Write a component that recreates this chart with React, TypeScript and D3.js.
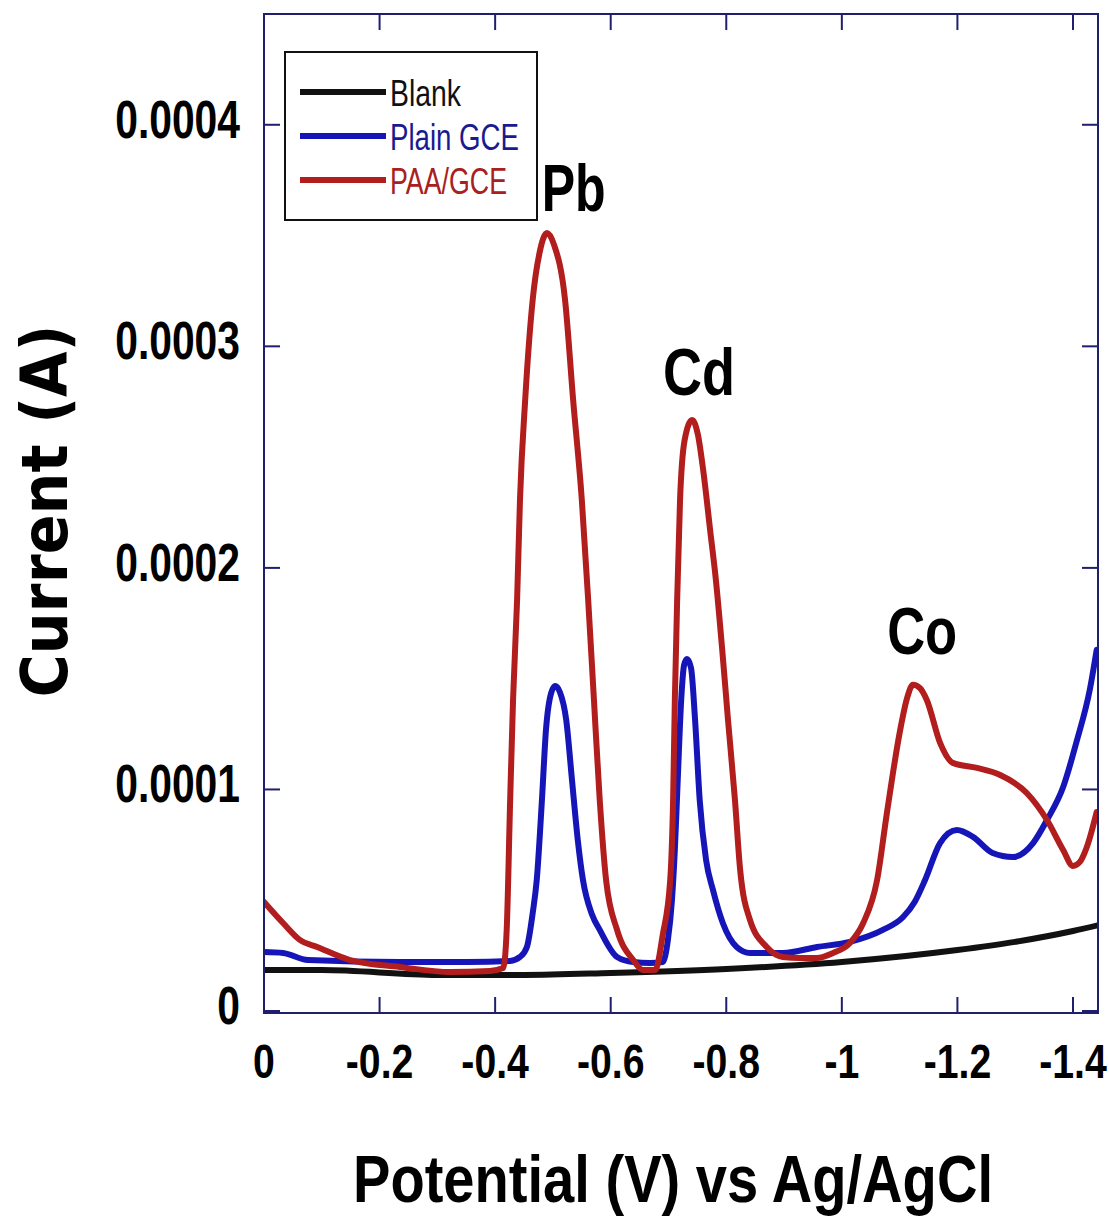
import React from "react";
import * as d3 from "d3";

// Potential (V) and current (A)
const blankV = [0, -0.1, -0.3, -0.45, -0.6, -0.8, -1.0, -1.2, -1.3, -1.4, -1.445];
const blankI = [1.85e-5, 1.85e-5, 1.63e-5, 1.63e-5, 1.72e-5, 1.9e-5, 2.21e-5, 2.75e-5, 3.12e-5, 3.61e-5, 3.88e-5];

const plainV = [0, -0.033, -0.076, -0.235, -0.351, -0.426, -0.443, -0.455, -0.465, -0.472, -0.481, -0.488, -0.497, -0.504, -0.512, -0.523, -0.533, -0.543, -0.552, -0.568, -0.581, -0.611, -0.639, -0.668, -0.69, -0.699, -0.706, -0.711, -0.716, -0.722, -0.727, -0.732, -0.739, -0.746, -0.754, -0.765, -0.777, -0.794, -0.818, -0.841, -0.898, -0.957, -1.014, -1.071, -1.106, -1.126, -1.144, -1.17, -1.199, -1.227, -1.261, -1.296, -1.331, -1.355, -1.383, -1.407, -1.429, -1.441];
const plainI = [2.66e-5, 2.62e-5, 2.3e-5, 2.21e-5, 2.21e-5, 2.26e-5, 2.44e-5, 2.89e-5, 4.42e-5, 5.91e-5, 9.53e-5, 12.69e-5, 14.36e-5, 14.67e-5, 14.4e-5, 13.14e-5, 10.43e-5, 7.72e-5, 5.91e-5, 4.33e-5, 3.66e-5, 2.44e-5, 2.21e-5, 2.17e-5, 2.21e-5, 3.21e-5, 5.01e-5, 7.27e-5, 10.43e-5, 14.04e-5, 15.62e-5, 15.89e-5, 15.49e-5, 13.14e-5, 9.53e-5, 6.82e-5, 5.46e-5, 3.97e-5, 2.89e-5, 2.62e-5, 2.62e-5, 2.89e-5, 3.12e-5, 3.66e-5, 4.24e-5, 4.92e-5, 5.91e-5, 7.58e-5, 8.17e-5, 7.86e-5, 7.13e-5, 6.95e-5, 7.58e-5, 8.62e-5, 10.11e-5, 12.23e-5, 14.49e-5, 16.3e-5];

const paaV = [0, -0.033, -0.062, -0.092, -0.149, -0.235, -0.322, -0.391, -0.414, -0.42, -0.426, -0.431, -0.438, -0.443, -0.452, -0.465, -0.478, -0.49, -0.502, -0.521, -0.535, -0.55, -0.561, -0.571, -0.581, -0.592, -0.611, -0.639, -0.656, -0.677, -0.69, -0.703, -0.708, -0.711, -0.715, -0.72, -0.728, -0.741, -0.751, -0.76, -0.772, -0.782, -0.793, -0.803, -0.815, -0.824, -0.841, -0.87, -0.898, -0.927, -0.957, -0.985, -1.014, -1.037, -1.061, -1.078, -1.101, -1.113, -1.123, -1.135, -1.147, -1.17, -1.192, -1.234, -1.274, -1.32, -1.355, -1.383, -1.4, -1.412, -1.424, -1.441];
const paaI = [4.92e-5, 3.97e-5, 3.21e-5, 2.89e-5, 2.3e-5, 1.99e-5, 1.76e-5, 1.81e-5, 1.94e-5, 3.66e-5, 9.53e-5, 14.04e-5, 18.56e-5, 23.07e-5, 27.58e-5, 32.1e-5, 34.36e-5, 35.12e-5, 34.58e-5, 32.1e-5, 27.58e-5, 23.07e-5, 18.56e-5, 14.04e-5, 9.53e-5, 5.91e-5, 3.66e-5, 2.3e-5, 1.85e-5, 1.85e-5, 3.43e-5, 5.91e-5, 9.53e-5, 14.04e-5, 18.56e-5, 23.07e-5, 25.78e-5, 26.68e-5, 26.0e-5, 24.42e-5, 21.72e-5, 19.46e-5, 16.3e-5, 13.14e-5, 9.53e-5, 6.37e-5, 4.11e-5, 2.89e-5, 2.44e-5, 2.39e-5, 2.39e-5, 2.62e-5, 3.07e-5, 3.97e-5, 5.91e-5, 8.94e-5, 12.69e-5, 14.13e-5, 14.72e-5, 14.58e-5, 14.04e-5, 12.1e-5, 11.2e-5, 10.97e-5, 10.65e-5, 9.84e-5, 8.62e-5, 7.27e-5, 6.55e-5, 6.73e-5, 7.4e-5, 8.98e-5];

const xTicks = [0, -0.2, -0.4, -0.6, -0.8, -1, -1.2, -1.4];
const xTickLabels = ["0", "-0.2", "-0.4", "-0.6", "-0.8", "-1", "-1.2", "-1.4"];
const yTicks = [0, 0.0001, 0.0002, 0.0003, 0.0004];
const yTickLabels = ["0", "0.0001", "0.0002", "0.0003", "0.0004"];

const seriesNames = ["Blank", "Plain GCE", "PAA/GCE"];
const seriesColors = ["#111111", "#1616b8", "#b21d1d"];
const labelColors = ["#111111", "#1a1a90", "#a82020"];

const peakLabels = ["Pb", "Cd", "Co"];
const peakLabelV = [-0.536, -0.753, -1.139];
const peakLabelI = [0.000361, 0.000278, 0.000161];
const peakLabelW = [64, 72, 70];

export default function App() {
  const W = 1109;
  const H = 1220;
  const left = 264, right = 1098, top = 14, bottom = 1013;

  const x = d3.scaleLinear().domain([0, -1.4433]).range([left, right]);
  const y = d3.scaleLinear().domain([-0.0000009, 0.00045]).range([bottom, top]);

  const line = d3
    .line<[number, number]>()
    .x((d) => x(d[0]))
    .y((d) => y(d[1]))
    .curve(d3.curveMonotoneX);

  const series = [
    d3.zip(blankV, blankI) as [number, number][],
    d3.zip(plainV, plainI) as [number, number][],
    d3.zip(paaV, paaI) as [number, number][],
  ];

  const frame = "#1f1f6e";
  const tickLen = 16;
  const narrow = "'Liberation Sans', Arial, sans-serif";

  return (
    <svg
      width={W}
      height={H}
      style={{ position: "absolute", left: 0, top: 0, background: "#fff" }}
    >
      <rect x={0} y={0} width={W} height={H} fill="#ffffff" />
      <defs>
        <clipPath id="plot">
          <rect x={left} y={top} width={right - left} height={bottom - top} />
        </clipPath>
      </defs>

      {/* curves */}
      <g clipPath="url(#plot)">
        {series.map((s, i) => (
          <path
            key={i}
            d={line(s) || ""}
            fill="none"
            stroke={seriesColors[i]}
            strokeWidth={6}
            strokeLinejoin="round"
            strokeLinecap="round"
          />
        ))}
      </g>

      {/* frame */}
      <rect
        x={left}
        y={top}
        width={right - left}
        height={bottom - top}
        fill="none"
        stroke={frame}
        strokeWidth={2}
      />

      {/* x ticks */}
      {xTicks.map((t, i) => (
        <g key={"xt" + i}>
          <line x1={x(t)} x2={x(t)} y1={bottom} y2={bottom - tickLen} stroke={frame} strokeWidth={2} />
          <line x1={x(t)} x2={x(t)} y1={top} y2={top + tickLen} stroke={frame} strokeWidth={2} />
          <text
            transform={`translate(${x(t)},${1078}) scale(0.8,1)`}
            textAnchor="middle"
            fontFamily={narrow}
            fontWeight="bold"
            fontSize={49}
            fill="#000"
          >
            {xTickLabels[i]}
          </text>
        </g>
      ))}

      {/* y ticks */}
      {yTicks.map((t, i) => (
        <g key={"yt" + i}>
          <line x1={left} x2={left + tickLen} y1={y(t)} y2={y(t)} stroke={frame} strokeWidth={2} />
          <line x1={right} x2={right - tickLen} y1={y(t)} y2={y(t)} stroke={frame} strokeWidth={2} />
          <text
            transform={`translate(${240},${y(t) + 13}) scale(0.77,1)`}
            textAnchor="end"
            fontFamily={narrow}
            fontWeight="bold"
            fontSize={53}
            fill="#000"
          >
            {yTickLabels[i]}
          </text>
        </g>
      ))}

      {/* axis titles */}
      <text
        x={673}
        y={1202}
        textAnchor="middle"
        fontFamily={narrow}
        fontWeight="bold"
        fontSize={66}
        textLength={640}
        lengthAdjust="spacingAndGlyphs"
        fill="#000"
      >
        Potential (V) vs Ag/AgCl
      </text>
      <text
        transform="translate(67,511) rotate(-90)"
        textAnchor="middle"
        fontFamily="'DejaVu Sans', Verdana, sans-serif"
        fontWeight="bold"
        fontSize={64}
        textLength={373}
        lengthAdjust="spacingAndGlyphs"
        fill="#000"
      >
        Current (A)
      </text>

      {/* peak labels */}
      {peakLabels.map((p, i) => (
        <text
          key={p}
          x={x(peakLabelV[i])}
          y={y(peakLabelI[i])}
          textAnchor="middle"
          fontFamily={narrow}
          fontWeight="bold"
          fontSize={66}
          textLength={peakLabelW[i]}
          lengthAdjust="spacingAndGlyphs"
          fill="#000"
        >
          {p}
        </text>
      ))}

      {/* legend */}
      <rect x={285} y={52} width={252} height={168} fill="#fff" stroke="#111" strokeWidth={2} />
      {seriesNames.map((n, i) => {
        const ly = 92 + i * 44;
        const widths = [71, 129, 117];
        return (
          <g key={n}>
            <line x1={300} x2={386} y1={ly} y2={ly} stroke={seriesColors[i]} strokeWidth={6} />
            <text
              x={390}
              y={ly + 14}
              fontFamily={narrow}
              fontSize={37}
              textLength={widths[i]}
              lengthAdjust="spacingAndGlyphs"
              fill={labelColors[i]}
            >
              {n}
            </text>
          </g>
        );
      })}
    </svg>
  );
}
